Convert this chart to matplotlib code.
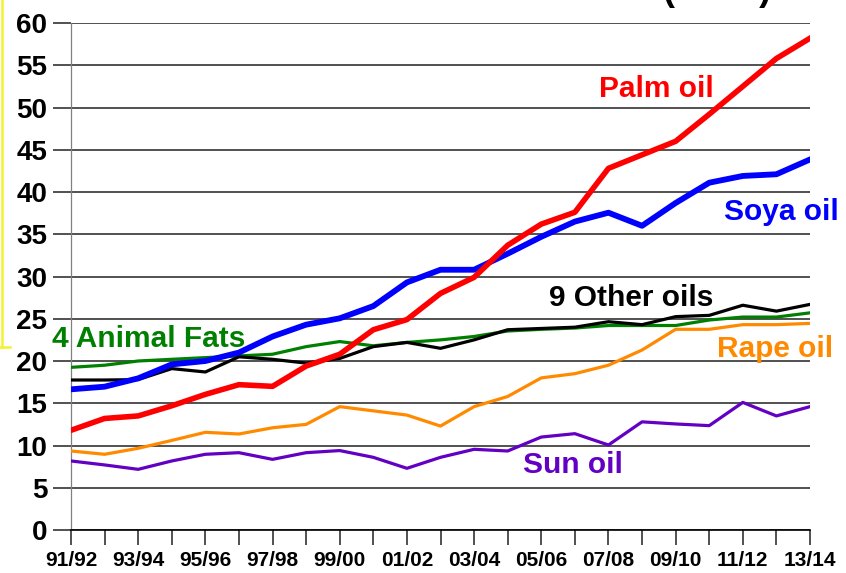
import matplotlib.pyplot as plt
from matplotlib.lines import Line2D

seasons = ['91/92', '92/93', '93/94', '94/95', '95/96', '96/97', '97/98', '98/99',
           '99/00', '00/01', '01/02', '02/03', '03/04', '04/05', '05/06', '06/07',
           '07/08', '08/09', '09/10', '10/11', '11/12', '12/13', '13/14']

palm = [11.8, 13.2, 13.5, 14.7, 16.05, 17.2, 17.0, 19.4, 20.8, 23.7, 24.9, 28.0,
        29.9, 33.7, 36.2, 37.6, 42.8, 44.4, 46.0, 49.2, 52.5, 55.8, 58.2]
soya = [16.65, 16.96, 17.95, 19.6, 20.0, 21.0, 22.9, 24.3, 25.05, 26.5, 29.3, 30.8,
        30.8, 32.7, 34.7, 36.5, 37.55, 36.0, 38.7, 41.1, 41.9, 42.1, 43.85]
other = [17.75, 17.75, 17.8, 19.1, 18.7, 20.5, 20.2, 19.75, 20.3, 21.7, 22.2, 21.5,
         22.5, 23.7, 23.85, 24.0, 24.65, 24.3, 25.25, 25.4, 26.6, 25.9, 26.7]
animal = [19.25, 19.5, 20.0, 20.2, 20.4, 20.6, 20.8, 21.7, 22.3, 21.8, 22.2, 22.5,
          22.9, 23.55, 23.75, 23.9, 24.2, 24.2, 24.2, 24.85, 25.2, 25.2, 25.7]
rape = [9.35, 8.96, 9.67, 10.6, 11.56, 11.36, 12.1, 12.5, 14.6, 14.1, 13.6, 12.3,
        14.6, 15.8, 18.0, 18.5, 19.5, 21.3, 23.75, 23.75, 24.3, 24.3, 24.45]
sun = [8.17, 7.7, 7.18, 8.17, 8.96, 9.15, 8.36, 9.15, 9.4, 8.6, 7.3, 8.6,
       9.55, 9.35, 11.0, 11.4, 10.06, 12.8, 12.55, 12.35, 15.1, 13.5, 14.6]

plt.rcParams['font.family'] = ['Liberation Sans', 'DejaVu Sans']
plt.rcParams['font.weight'] = 'bold'

fig = plt.figure(figsize=(8.46, 5.73), dpi=100)
ax = fig.add_axes([71/846, 1 - 530/573, (810 - 71)/846, (530 - 23)/573])

x = list(range(len(seasons)))
green, orange, purple = '#008000', '#FF8A00', '#6200C4'

ax.plot(x, animal, c=green, lw=2.3, zorder=3)
ax.plot(x, other, c='black', lw=2.3, zorder=4)
ax.plot(x, rape, c=orange, lw=2.3, zorder=3)
ax.plot(x, sun, c=purple, lw=2.3, zorder=3)
ax.plot(x, soya, c='#0000FF', lw=4.2, zorder=5)
ax.plot(x, palm, c='#FF0000', lw=4.0, zorder=6)

ax.set_xlim(0, 22)
ax.set_ylim(0, 60)
ax.set_yticks(range(0, 61, 5))
ax.set_xticks(x)
ax.set_xticklabels([s if i % 2 == 0 else '' for i, s in enumerate(seasons)])
ax.grid(axis='y', color='#333333', lw=1.2)
ax.set_axisbelow(True)

for s in ['top', 'right']:
    ax.spines[s].set_visible(False)
ax.spines['left'].set_color('#808080')
ax.spines['left'].set_linewidth(0.9)
ax.spines['bottom'].set_color('black')
ax.spines['bottom'].set_linewidth(1.2)

ax.tick_params(axis='y', length=13, width=1.2, color='#333333', pad=4,
               labelsize=20)
ax.tick_params(axis='x', length=11, width=1.2, color='#333333', pad=4,
               labelsize=15)

lab = dict(fontsize=21.5, fontweight='bold', va='baseline', ha='left')
ax.text(15.72, 51.2, 'Palm oil', color='#FF0000', **lab)
ax.text(19.44, 36.7, 'Soya oil', color='#0000FF', **lab)
ax.text(14.23, 26.5, '9 Other oils', color='black', **lab)
ax.text(-0.575, 21.7, '4 Animal Fats', color=green, **lab)
ax.text(19.22, 20.5, 'Rape oil', color=orange, **lab)
ax.text(13.45, 6.75, 'Sun oil', color=purple, **lab)

# title cut off at the top edge of the picture
fig.text(717/846, 1.0, '(Mn T)', fontsize=26, fontweight='bold',
         ha='center', va='baseline')

# yellow frame edge on the left
yb = 1 - 347/573
fig.add_artist(Line2D([1.5/846, 1.5/846], [1, yb], color='#F2F230', lw=1.8))
fig.add_artist(Line2D([0, 10/846], [yb, yb], color='#F2F230', lw=1.8))

fig.savefig('out.png', dpi=100)
